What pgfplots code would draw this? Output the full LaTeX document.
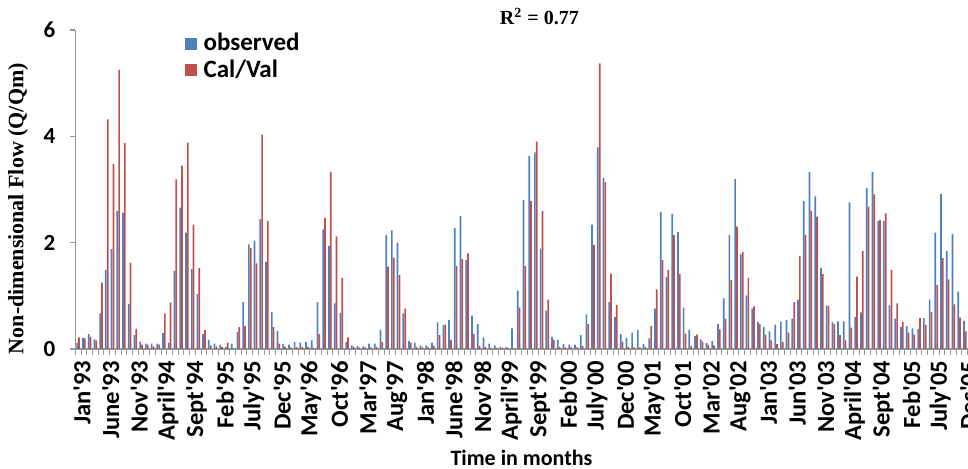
\documentclass[border=0pt]{standalone}
\usepackage{fontspec}
\setmainfont{Liberation Serif}
\newfontfamily\calfont{Carlito}
\usepackage{pgfplots}
\usepackage{pgfplotstable}
\pgfplotsset{compat=1.18}

\definecolor{obsblue}{HTML}{4F81BD}
\definecolor{calred}{HTML}{C0504D}

% month index (0 = Jan'93), observed, Cal/Val
\pgfplotstableread{
m obs cal
0 0.12 0.22
1 0.21 0.20
2 0.28 0.23
3 0.18 0.16
4 0.67 1.25
5 1.49 4.32
6 1.88 3.48
7 2.60 5.25
8 2.56 3.87
9 0.85 1.62
10 0.26 0.38
11 0.14 0.08
12 0.10 0.08
13 0.10 0.05
14 0.10 0.08
15 0.30 0.67
16 0.12 0.87
17 1.47 3.19
18 2.66 3.45
19 2.19 3.88
20 1.50 2.34
21 1.03 1.52
22 0.28 0.36
23 0.17 0.07
24 0.10 0.05
25 0.08 0.04
26 0.04 0.12
27 0.10 0.01
28 0.32 0.41
29 0.88 0.43
30 1.97 1.90
31 2.04 1.61
32 2.44 4.03
33 1.64 2.41
34 0.70 0.41
35 0.34 0.10
36 0.09 0.04
37 0.08 0.03
38 0.13 0.04
39 0.12 0.04
40 0.13 0.04
41 0.16 0.02
42 0.88 0.28
43 2.25 2.46
44 1.94 3.33
45 0.86 2.12
46 0.68 1.34
47 0.13 0.22
48 0.07 0.04
49 0.06 0.03
50 0.05 0.03
51 0.10 0.03
52 0.10 0.04
53 0.36 0.13
54 2.14 1.55
55 2.23 1.72
56 2.00 1.39
57 0.67 0.76
58 0.15 0.12
59 0.12 0.04
60 0.07 0.03
61 0.07 0.03
62 0.12 0.06
63 0.50 0.26
64 0.45 0.46
65 0.55 0.17
66 2.28 1.56
67 2.50 1.69
68 1.67 1.80
69 0.63 0.28
70 0.47 0.06
71 0.22 0.04
72 0.10 0.02
73 0.07 0.02
74 0.04 0.02
75 0.04 0.02
76 0.39 0.01
77 1.10 0.78
78 2.80 1.56
79 3.63 2.78
80 3.70 3.90
81 1.89 2.60
82 0.72 0.93
83 0.23 0.17
84 0.17 0.04
85 0.09 0.03
86 0.08 0.03
87 0.08 0.03
88 0.26 0.06
89 0.65 0.47
90 2.34 1.96
91 3.79 5.37
92 3.22 3.14
93 0.88 1.42
94 0.60 0.83
95 0.28 0.14
96 0.21 0.04
97 0.31 0.03
98 0.36 0.03
99 0.09 0.04
100 0.20 0.43
101 0.76 1.12
102 2.58 1.67
103 1.35 1.49
104 2.54 2.14
105 2.20 1.41
106 0.78 0.29
107 0.36 0.06
108 0.24 0.27
109 0.18 0.14
110 0.11 0.08
111 0.15 0.07
112 0.47 0.37
113 0.95 0.57
114 2.14 1.30
115 3.20 2.30
116 1.78 1.82
117 1.01 1.34
118 0.76 0.80
119 0.51 0.47
120 0.41 0.27
121 0.33 0.16
122 0.46 0.09
123 0.52 0.13
124 0.55 0.31
125 0.57 0.88
126 0.93 1.75
127 2.78 2.14
128 3.33 2.60
129 2.87 2.49
130 1.52 1.41
131 0.82 0.81
132 0.51 0.47
133 0.52 0.26
134 0.52 0.16
135 2.76 0.40
136 0.60 1.36
137 0.69 1.84
138 3.03 2.68
139 3.33 2.91
140 2.41 2.43
141 2.41 2.55
142 0.82 1.49
143 0.57 0.86
144 0.41 0.51
145 0.43 0.31
146 0.39 0.27
147 0.38 0.58
148 0.58 0.46
149 0.93 0.70
150 2.19 1.20
151 2.92 1.71
152 1.84 1.31
153 2.16 0.84
154 1.08 0.59
155 0.53 0.33
}\flowdata

\begin{document}
\begin{tikzpicture}
\begin{axis}[
  at={(0,0)}, anchor=south west,
  scale only axis,
  width=446.2pt, height=159.5pt,
  xmin=-0.5, xmax=155.5,
  ymin=0, ymax=6,
  axis x line*=bottom, axis y line*=left,
  axis line style={-, draw=gray!80, line width=0.6pt},
  ytick={0,2,4,6},
  yticklabels={0,2,4,6},
  xtick={0,5,...,155},
  xticklabels={Jan'93,June'93,Nov'93,April'94,Sept'94,Feb'95,July'95,Dec'95,May'96,Oct'96,Mar'97,Aug'97,Jan'98,June'98,Nov'98,April'99,Sept'99,Feb'00,July'00,Dec'00,May'01,Oct'01,Mar'02,Aug'02,Jan'03,Jun'03,Nov'03,April'04,Sept'04,Feb'05,July'05,Dec'05},
  minor xtick={-0.5,0.5,...,155.5},
  major x tick style={draw=none},
  minor x tick style={draw=gray!80, line width=0.5pt},
  y tick style={draw=gray!80, line width=0.6pt},
  tick align=outside,
  minor tick length=3pt,
  major tick length=2.5pt,
  /pgf/number format/assume math mode=true,
  ticklabel style={text=black},
  xticklabel style={font=\calfont\bfseries\fontsize{12.3}{14}\selectfont, rotate=90, anchor=east, yshift=-2pt},
  yticklabel style={font=\calfont\bfseries\fontsize{11.5}{13}\selectfont, xshift=-4pt},
  xlabel={Time in months},
  xlabel style={font=\calfont\bfseries\fontsize{11}{13}\selectfont, at={(axis description cs:0.5,-0.342)}, anchor=center},
  ylabel={Non-dimensional Flow (Q/Qm)},
  ylabel style={font=\bfseries\fontsize{11}{13}\selectfont, at={(axis description cs:-0.064,0.44)}, anchor=center, rotate=0},
  legend style={at={(axis description cs:0.122,1.0)}, anchor=north west, draw=none, fill=none,
    font=\calfont\bfseries\fontsize{12.5}{14}\selectfont, row sep=0pt, inner sep=0pt,
    nodes={inner sep=1.5pt}},
  legend cell align=left,
  clip=false,
]
\addlegendimage{legend image code/.code={\node[fill=obsblue, inner sep=0pt, minimum width=6pt, minimum height=6pt, anchor=west] at (0pt,0pt) {};}}
\addlegendentry{\hspace{2pt}observed}
\addlegendimage{legend image code/.code={\node[fill=calred, inner sep=0pt, minimum width=6pt, minimum height=6pt, anchor=west] at (0pt,0pt) {};}}
\addlegendentry{\hspace{2pt}Cal/Val}
\addplot[ybar, bar width=0.3, bar shift=-0.16, fill=obsblue, draw=none, forget plot] table[x=m, y=obs] {\flowdata};
\addplot[ybar, bar width=0.3, bar shift=0.16, fill=calred, draw=none, forget plot] table[x=m, y=cal] {\flowdata};
\node[font=\bfseries\fontsize{10}{12}\selectfont] at (axis description cs:0.52,1.042) {R$^{\mathbf{2}}$ = 0.77};
\end{axis}
\pgfresetboundingbox
\useasboundingbox (-37.65pt,-60pt) rectangle (446.35pt,174.5pt);
\end{tikzpicture}
\end{document}
